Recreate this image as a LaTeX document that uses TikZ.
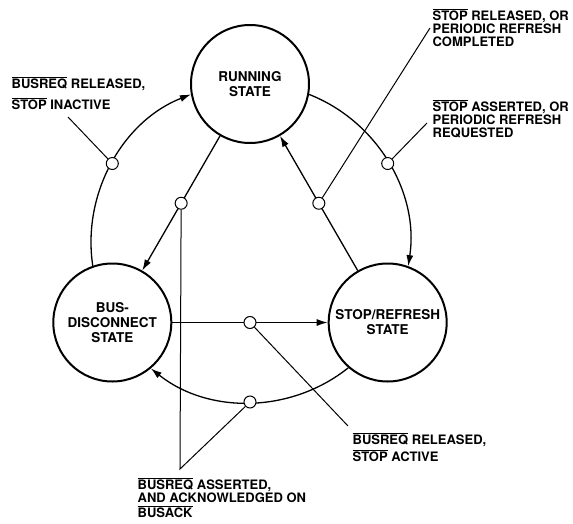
\documentclass[tikz,border=0pt]{standalone}
\usepackage{fontspec}
\setmainfont{TeX Gyre Heros}
\usetikzlibrary{arrows.meta,calc}
\newcommand{\lowact}[1]{$\overline{\mbox{#1}}$}

\begin{document}
\begin{tikzpicture}[x=1pt,y=1pt,line width=1.3pt,>={Latex[length=11pt,width=7pt]},
  state/.style={circle,draw,line width=2pt,minimum size=118pt,inner sep=0pt,align=center,font=\bfseries\fontsize{13.5}{15}\selectfont},
  probe/.style={circle,draw,fill=white,line width=1pt,minimum size=12pt,inner sep=0pt},
  note/.style={anchor=north west,inner sep=0pt,align=left,font=\bfseries\fontsize{13}{13}\selectfont},
  lead/.style={line width=1pt}]
\useasboundingbox(-250,-280)rectangle(323,243);
\node[state](run)at(90:159){RUNNING\\STATE};
\node[state](bus)at(210:159){BUS-\\DISCONNECT\\STATE};
\node[state](stop)at(330:159){STOP/REFRESH\\STATE};
\draw[->](bus.109.3)to[out=98.6,in=201.4,looseness=0.95](run.190.7);
\draw[->](run.-10.7)to[out=-21.4,in=81.4,looseness=0.95](stop.70.7);
\draw[->](stop.229.3)to[out=218.6,in=321.4,looseness=0.95](bus.310.7);
\draw[->](run)--(bus);
\draw[->](stop)--(run);
\draw[->](bus)--(stop);
\node[probe](p1)at(150:159){};
\node[probe](p2)at(30:159){};
\node[probe](p3)at(270:159){};
\node[probe](p4)at($(run)!0.5!(bus)$){};
\node[probe](p5)at($(stop)!0.5!(run)$){};
\node[probe](p6)at($(bus)!0.5!(stop)$){};
\node[note](l1)at(-239,167){\lowact{BUSREQ} RELEASED,\\[6pt]\lowact{STOP} INACTIVE};
\node[note](l2)at(182,235){\lowact{STOP} RELEASED, OR\\PERIODIC REFRESH\\COMPLETED};
\node[note](l3)at(182,144){\lowact{STOP} ASSERTED, OR\\PERIODIC REFRESH\\REQUESTED};
\node[note](l4)at(102,-189){\lowact{BUSREQ} RELEASED,\\[2pt]\lowact{STOP} ACTIVE};
\node[note](l5)at(-113,-234){\lowact{BUSREQ} ASSERTED,\\AND ACKNOWLEDGED ON\\[2pt]\lowact{BUSACK}};
\coordinate(apex)at([shift={(43,8)}]l5.north west);
\draw[lead](p1)--([shift={(57,-41)}]l1.north west);
\draw[lead](p5)--([shift={(-2,-20)}]l2.north west);
\draw[lead](p2)--([shift={(-5,-24)}]l3.north west);
\draw[lead](p6)--([shift={(-4,6)}]l4.north west);
\draw[lead](p4)--(apex)--(p3);
\end{tikzpicture}
\end{document}
